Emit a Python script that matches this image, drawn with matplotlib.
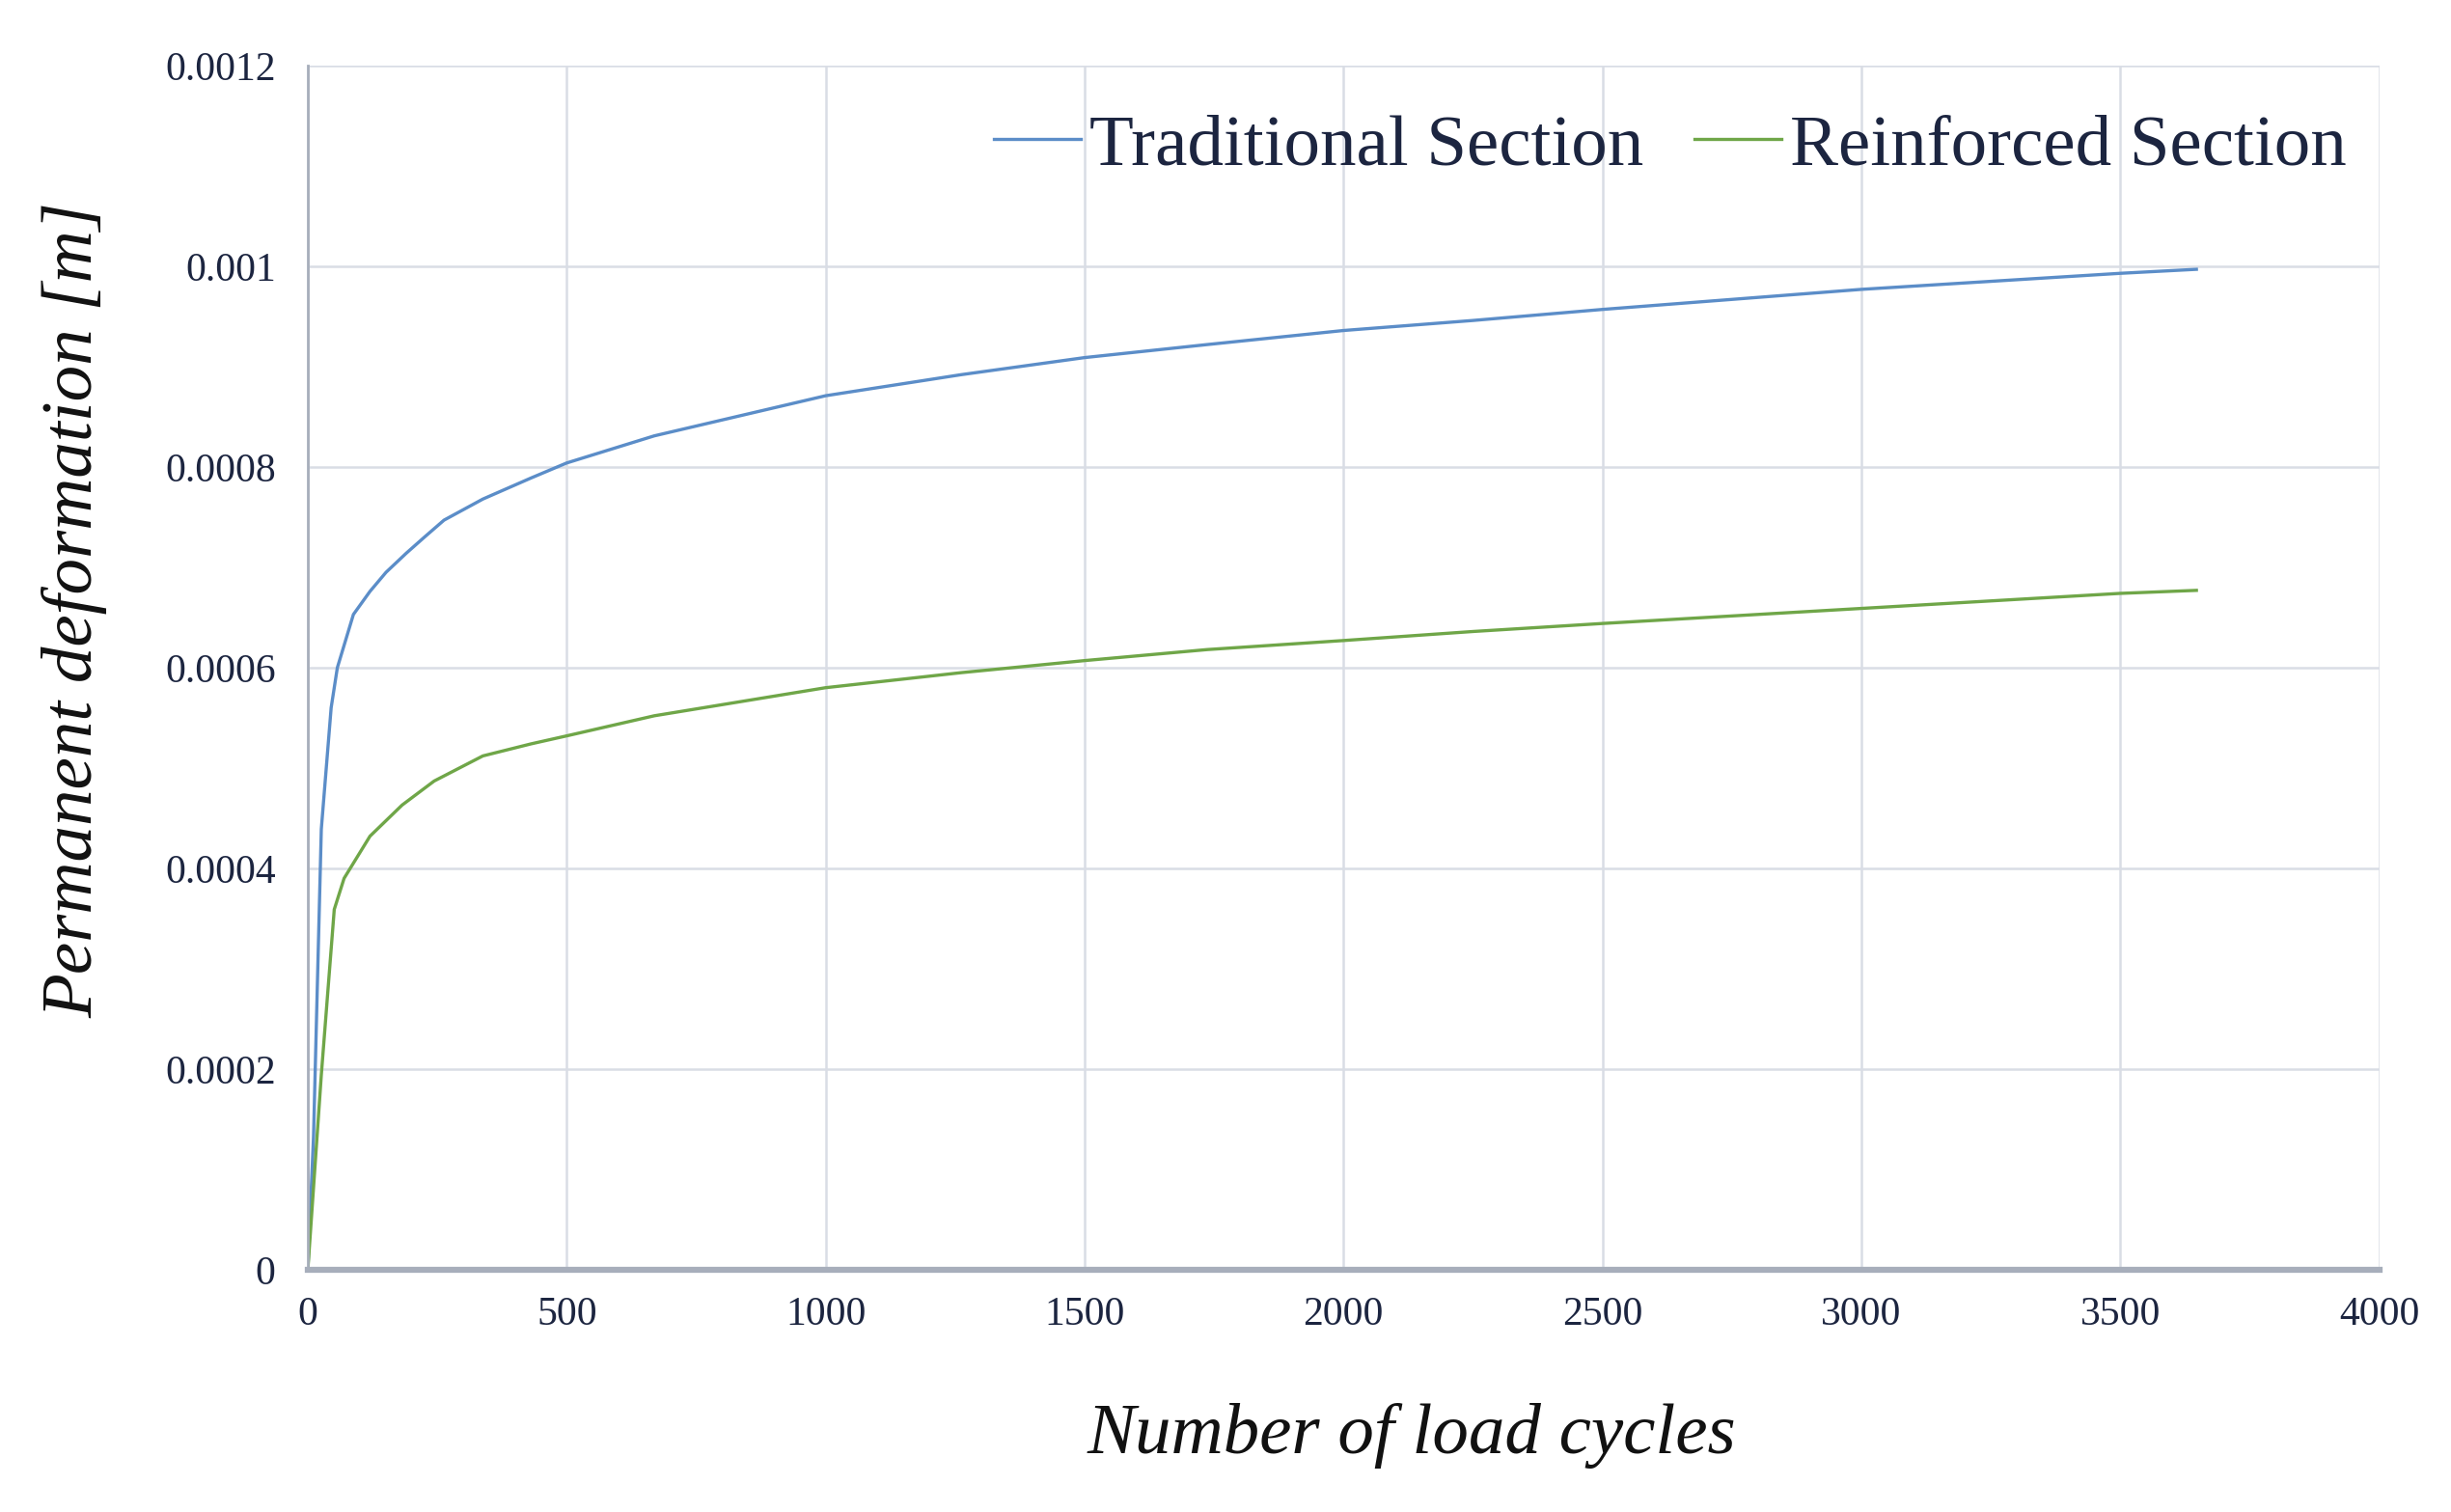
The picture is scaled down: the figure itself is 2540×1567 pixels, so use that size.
import matplotlib
matplotlib.use("Agg")
import matplotlib.pyplot as plt

# Data
cycles_trad = [0, 11, 26, 45, 57, 88, 120, 151, 190, 225, 263, 338, 431, 500,
               669, 1000, 1262, 1500, 1737, 2000, 2250, 2500, 3000, 3500, 3647]
deform_trad = [0, 0.000133, 0.000439, 0.00056, 0.0006, 0.000653, 0.000676,
               0.000695, 0.000714, 0.00073, 0.000747, 0.000768, 0.000789,
               0.000804, 0.000831, 0.000871, 0.000892, 0.000909, 0.000922,
               0.000936, 0.000946, 0.000957, 0.000977, 0.000993, 0.000997]

cycles_reinf = [0, 26, 51, 70, 120, 182, 244, 338, 431, 500, 669, 1000, 1262,
                1500, 1737, 2000, 2250, 2500, 3000, 3500, 3647]
deform_reinf = [0, 0.000194, 0.000359, 0.00039, 0.000432, 0.000463, 0.000487,
                0.000512, 0.000524, 0.000532, 0.000552, 0.00058, 0.000595,
                0.000607, 0.000618, 0.000627, 0.000636, 0.000644, 0.000659,
                0.000674, 0.000677]

x_ticks = [0, 500, 1000, 1500, 2000, 2500, 3000, 3500, 4000]
y_ticks = [0, 0.0002, 0.0004, 0.0006, 0.0008, 0.001, 0.0012]
y_tick_labels = ["0", "0.0002", "0.0004", "0.0006", "0.0008", "0.001", "0.0012"]

text_col = "#1c2540"
grid_col = "#d9dde5"
axis_col = "#a7aebb"

plt.rcParams['font.family'] = ['Liberation Serif', 'DejaVu Serif']

fig = plt.figure(figsize=(25.4, 15.67), dpi=100)
ax = fig.add_axes([0.1256, 0.1603, 0.8451, 0.7963])

ax.plot(cycles_trad, deform_trad, color="#5b8dc8", lw=2.4,
        solid_joinstyle='round', label="Traditional Section")
ax.plot(cycles_reinf, deform_reinf, color="#6fa648", lw=2.4,
        solid_joinstyle='round', label="Reinforced Section")

ax.set_xlim(0, 4000)
ax.set_ylim(0, 0.0012)
ax.set_xticks(x_ticks)
ax.set_xticklabels([str(v) for v in x_ticks])
ax.set_yticks(y_ticks)
ax.set_yticklabels(y_tick_labels)
ax.tick_params(axis='both', length=0, labelsize=30, colors=text_col)
ax.tick_params(axis='x', pad=20)
ax.tick_params(axis='y', pad=24)

ax.grid(True, color=grid_col, lw=1.8)
ax.set_axisbelow(True)
for side in ['top', 'right']:
    ax.spines[side].set_visible(False)
ax.spines['bottom'].set_color(axis_col)
ax.spines['bottom'].set_linewidth(4.5)
ax.spines['left'].set_color(axis_col)
ax.spines['left'].set_linewidth(2.0)

fig.text(0.576, 0.0507, "Number of load cycles", style='italic', fontsize=54,
         color="#111111", ha='center', va='center')
fig.text(0.0306, 0.5967, "Permanent deformation [m]", style='italic', fontsize=54,
         color="#111111", ha='center', va='center', rotation=90)

leg = ax.legend(loc='center right', bbox_to_anchor=(0.984, 0.903),
                bbox_transform=fig.transFigure, ncol=2, frameon=False,
                fontsize=54, handlelength=1.2, handletextpad=0.12,
                columnspacing=0.7)
for t in leg.get_texts():
    t.set_color(text_col)

fig.savefig("out.png", dpi=100, facecolor="white")
